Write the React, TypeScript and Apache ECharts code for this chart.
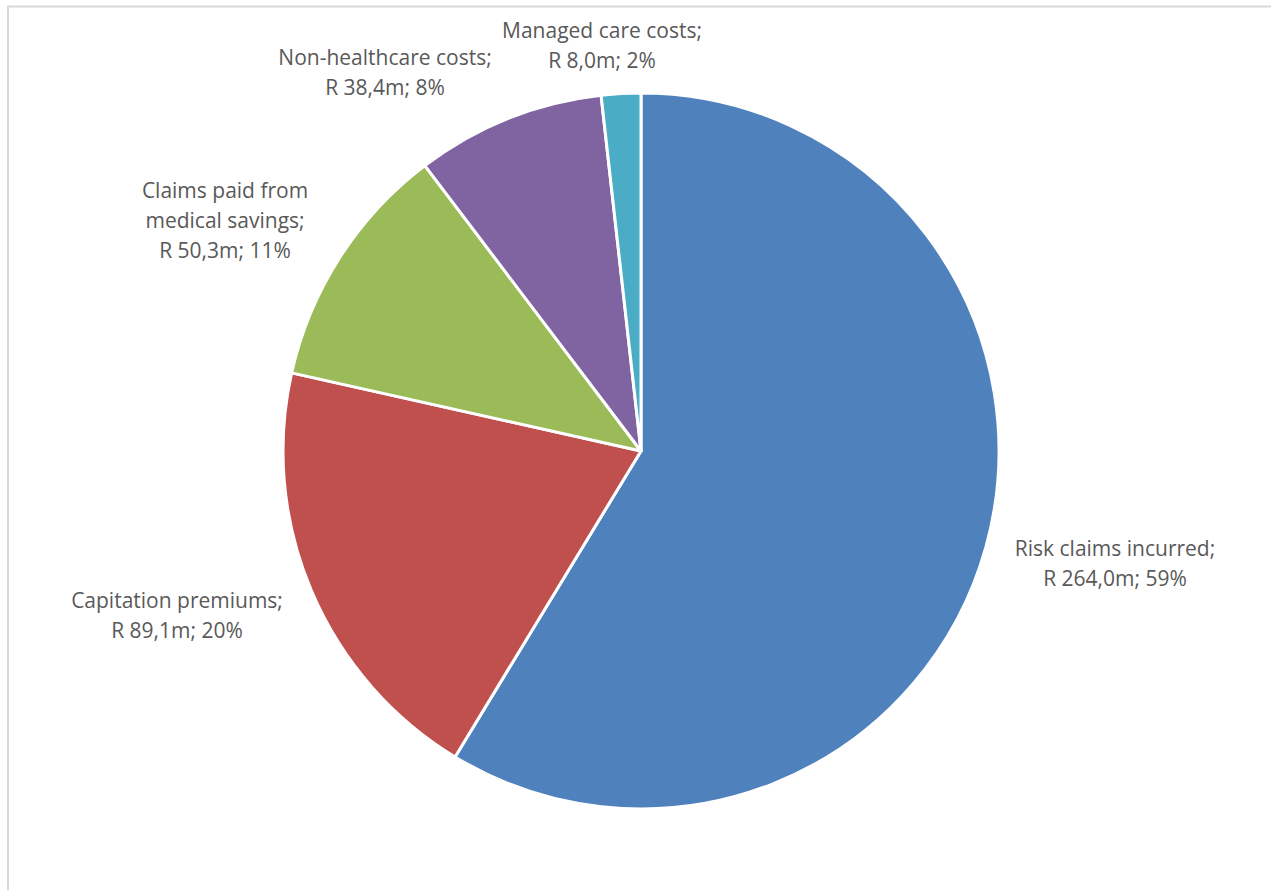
import React, { useEffect, useRef } from "react";
import * as echarts from "echarts";

const categories = [
  "Risk claims incurred;",
  "Capitation premiums;",
  "Claims paid from\nmedical savings;",
  "Non-healthcare costs;",
  "Managed care costs;",
];
const values = [264.0, 89.1, 50.3, 38.4, 8.0];
const percentLabels = ["59%", "20%", "11%", "8%", "2%"];
const colors = ["#4F81BD", "#C0504D", "#9BBB59", "#8064A2", "#4BACC6"];

// label anchor positions (layout only)
const labelPos: [number, number][] = [
  [1115, 563],
  [177, 615],
  [225, 220],
  [385, 72],
  [602, 45],
];

export default function App() {
  const ref = useRef<HTMLDivElement>(null);
  useEffect(() => {
    if (!ref.current) return;
    const chart = echarts.init(ref.current, undefined, { renderer: "svg" });
    chart.setOption({
      animation: false,
      backgroundColor: "#ffffff",
      graphic: [
        {
          type: "rect",
          shape: { x: 8, y: 6.5, width: 1400, height: 1000 },
          style: { fill: "none", stroke: "#D9D9D9", lineWidth: 2 },
          silent: true,
        },
      ],
      series: [
        {
          type: "pie",
          center: [641, 451],
          radius: [0, 358],
          startAngle: 90,
          clockwise: true,
          data: categories.map((c, i) => ({
            name: c,
            value: values[i],
            itemStyle: { color: colors[i] },
          })),
          itemStyle: { borderColor: "#ffffff", borderWidth: 3 },
          labelLine: { show: false },
          label: {
            show: true,
            position: "outside",
            color: "#595959",
            fontFamily: "'Open Sans', Lato, sans-serif",
            fontSize: 21,
            lineHeight: 30,
            align: "center",
            formatter: (p: any) =>
              `${p.name}\nR ${values[p.dataIndex].toFixed(1).replace(".", ",")}m; ${percentLabels[p.dataIndex]}`,
          },
          labelLayout: (p: any) => ({
            x: labelPos[p.dataIndex][0],
            y: labelPos[p.dataIndex][1],
            align: "center",
            verticalAlign: "middle",
          }),
        },
      ],
    });
    return () => chart.dispose();
  }, []);
  return (
    <div
      ref={ref}
      style={{ position: "fixed", left: 0, top: 0, width: 1271, height: 890 }}
    />
  );
}
